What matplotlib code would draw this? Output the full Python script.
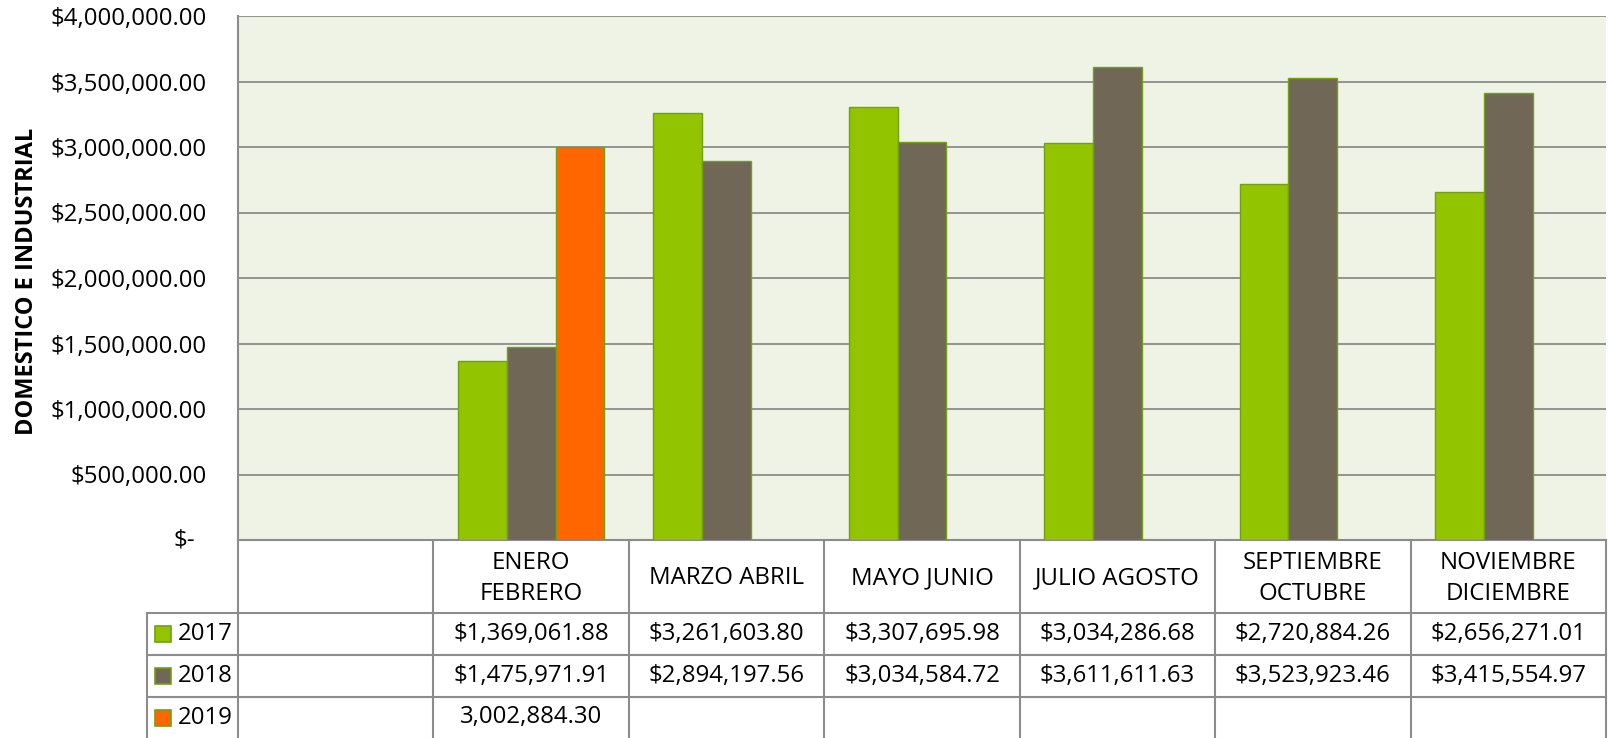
import numpy as np
import matplotlib
matplotlib.use("Agg")
import matplotlib.pyplot as plt
from matplotlib.patches import Rectangle
from matplotlib.ticker import FuncFormatter, MultipleLocator

# ---- data ---------------------------------------------------------------
categories = ["", "ENERO\nFEBRERO", "MARZO ABRIL", "MAYO JUNIO", "JULIO AGOSTO",
              "SEPTIEMBRE\nOCTUBRE", "NOVIEMBRE\nDICIEMBRE"]
years = ["2017", "2018", "2019"]
v2017 = [np.nan, 1369061.88, 3261603.80, 3307695.98, 3034286.68, 2720884.26, 2656271.01]
v2018 = [np.nan, 1475971.91, 2894197.56, 3034584.72, 3611611.63, 3523923.46, 3415554.97]
v2019 = [np.nan, 3002884.30, np.nan, np.nan, np.nan, np.nan, np.nan]
series = [v2017, v2018, v2019]
value_prefix = ["$", "$", ""]
colors = ["#93C400", "#716757", "#FF6600"]
y_max = 4000000
y_step = 500000
y_title = "DOMESTICO E INDUSTRIAL"

# ---- style --------------------------------------------------------------
FONT = "Open Sans"
FS = 17.3
GRID = "#8C8C8C"
EDGE = "#72A014"
BG = "#EEF3E5"

W, H = 1612, 738
fig = plt.figure(figsize=(W / 100, H / 100), dpi=100)
fig.patch.set_facecolor("white")

left, right, top, bottom = 238, 1606, 16, 540
ax = fig.add_axes([left / W, 1 - bottom / H, (right - left) / W, (bottom - top) / H])
ax.set_facecolor(BG)

n = len(categories)
x = np.arange(n)
bw = 0.25
for i, vals in enumerate(series):
    ax.bar(x + (i - 1) * bw, vals, width=bw, color=colors[i],
           edgecolor=EDGE, linewidth=1.0, zorder=3)

ax.set_xlim(-0.5, n - 0.5)
ax.set_ylim(0, y_max)
ax.yaxis.set_major_locator(MultipleLocator(y_step))
ax.grid(axis="y", color=GRID, linewidth=1.3, zorder=1)
ax.set_axisbelow(True)
ax.set_xticks([])
ax.tick_params(axis="y", length=0, pad=22.3, labelsize=FS)
ax.yaxis.set_major_formatter(FuncFormatter(lambda v, p: "" if v == 0 else f"${v:,.2f}"))
for lab in ax.get_yticklabels():
    lab.set_fontfamily(FONT)
for s in ["top", "right"]:
    ax.spines[s].set_visible(False)
for s in ["left", "bottom"]:
    ax.spines[s].set_color(GRID)
    ax.spines[s].set_linewidth(1.5)

# accounting-style zero label
ax.annotate("$-", xy=(0, 0), xycoords=("axes fraction", "data"),
            xytext=(-43 * 0.72, 0), textcoords="offset points",
            ha="right", va="center", fontsize=FS, family=FONT)

fig.text(27 / W, 1 - 281 / H, y_title, rotation=90, ha="center", va="center",
         fontsize=17.0, fontweight="bold", family=FONT)

# ---- data table ---------------------------------------------------------
tax = fig.add_axes([0, 0, 1, 1])
tax.set_xlim(0, W)
tax.set_ylim(H, 0)
tax.axis("off")
tax.patch.set_visible(False)

fig.canvas.draw()
col_px = [ax.transData.transform((k - 0.5, 0))[0] for k in range(n + 1)]
leg_left = 147
row_y = [bottom, 613, 655, 697, H]

lw = 1.5
# horizontal rules
for y in row_y[1:-1]:
    tax.plot([leg_left, col_px[-1]], [y, y], color=GRID, lw=lw, solid_capstyle="projecting")
# vertical rules
for cx in col_px:
    tax.plot([cx, cx], [bottom, H], color=GRID, lw=lw)
tax.plot([leg_left, leg_left], [row_y[1], H], color=GRID, lw=lw)

# header labels
hy = (row_y[0] + row_y[1]) / 2
for k, cat in enumerate(categories):
    cx = (col_px[k] + col_px[k + 1]) / 2
    tax.text(cx, hy + 2, cat, ha="center", va="center", fontsize=FS,
             family=FONT, linespacing=1.38, multialignment="center")

# series rows
for i, vals in enumerate(series):
    y0, y1 = row_y[i + 1], row_y[i + 2]
    cy = (y0 + y1) / 2
    tax.add_patch(Rectangle((155, cy - 8), 16, 16, facecolor=colors[i],
                            edgecolor=EDGE, linewidth=1.2))
    tax.text(178, cy, years[i], ha="left", va="center", fontsize=FS, family=FONT)
    for k, v in enumerate(vals):
        if np.isnan(v):
            continue
        cx = (col_px[k] + col_px[k + 1]) / 2
        tax.text(cx, cy, f"{value_prefix[i]}{v:,.2f}", ha="center", va="center",
                 fontsize=FS, family=FONT)

fig.savefig("out.png", dpi=100)
